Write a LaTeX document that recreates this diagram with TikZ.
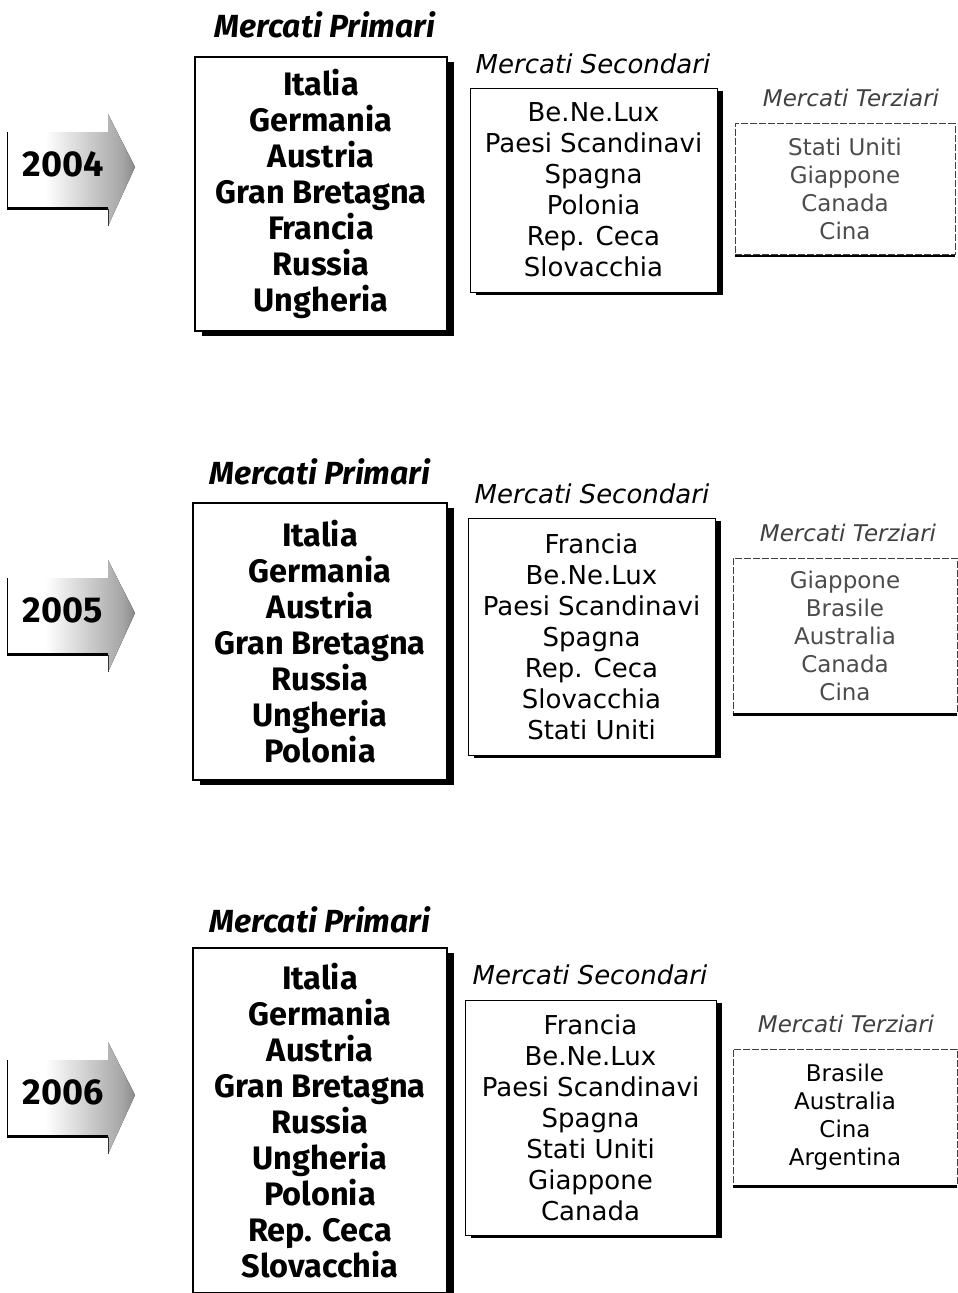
\documentclass[tikz,border=0pt]{standalone}
\usepackage{fontspec}
\setmainfont{Fira Sans}
\newfontfamily\dvfont{DejaVu Sans}
\usetikzlibrary{shadows}
\pgfdeclarehorizontalshading{arrowshade}{100bp}{color(0bp)=(white); color(40bp)=(white); color(70bp)=(black!35); color(88bp)=(black!75); color(100bp)=(black!95)}
\tikzset{
  primbox/.style={draw=black, line width=1.2pt, fill=white, align=center, inner sep=0pt,
    font=\bfseries\fontsize{32.5}{36}\selectfont,
    drop shadow={shadow xshift=7pt, shadow yshift=-5pt, opacity=1, fill=black}},
  secbox/.style={draw=black, line width=0.8pt, fill=white, align=center, inner sep=0pt,
    font=\dvfont\fontsize{26}{31}\selectfont,
    drop shadow={shadow xshift=6pt, shadow yshift=-3pt, opacity=1, fill=black}},
  terbox/.style={draw=black!75, line width=0.7pt, dash pattern=on 7pt off 2pt, fill=white, align=center, inner sep=0pt,
    font=\dvfont\fontsize{23}{28}\selectfont},
  primtitle/.style={font=\bfseries\itshape\fontsize{32}{34}\selectfont},
  sectitle/.style={font=\dvfont\itshape\fontsize{26}{28}\selectfont},
  tertitle/.style={font=\dvfont\itshape\fontsize{23}{26}\selectfont, text=black!75},
  yeartext/.style={font=\bfseries\fontsize{36}{38}\selectfont},
  tershadow/.style={line width=2.5pt, black},
}
\newcommand{\yeararrow}[3]{%
  % #1 name, #2 center y, #3 label
  \fill[shading=arrowshade] (7,#2-32) -- (108,#2-32) -- (108,#2-50) -- (135,#2+3) -- (108,#2+62) -- (108,#2+45) -- (7,#2+45) -- cycle;
  \draw[line width=1pt] (7,#2-32) -- (7,#2+45);
  \draw[line width=3pt] (7,#2+44) -- (108,#2+44);
  \draw[line width=1pt, black!80] (108,#2+45) -- (108,#2+62);
  \node[yeartext] (#1) at (63,#2) {#3};
}
\begin{document}
\begin{tikzpicture}[x=1pt,y=-1pt]
\useasboundingbox (0,0) rectangle (958,1293);
\clip (0,0) rectangle (958,1293);
\fill[white] (0,0) rectangle (958,1293);

% ---------------- 2004 ----------------
\yeararrow{y1}{164}{2004}
\node[primtitle] (pt1) at (325,25) {Mercati Primari};
\node[primbox, minimum width=252pt, minimum height=274pt] (p1) at (321,194)
  {Italia\\Germania\\Austria\\Gran Bretagna\\Francia\\Russia\\Ungheria};
\node[sectitle] (st1) at (593,64) {Mercati Secondari};
\node[secbox, minimum width=247pt, minimum height=204pt] (s1) at (593.5,190)
  {Be.Ne.Lux\\Paesi Scandinavi\\Spagna\\Polonia\\Rep. Ceca\\Slovacchia};
\node[tertitle] (tt1) at (851,98) {Mercati Terziari};
\node[terbox, minimum width=220pt, minimum height=131pt, text=black!70] (t1) at (845,189)
  {Stati Uniti\\Giappone\\Canada\\Cina};
\draw[tershadow] ([yshift=-1pt]t1.south west) -- ([yshift=-1pt]t1.south east);

% ---------------- 2005 ----------------
\yeararrow{y2}{610}{2005}
\node[primtitle] (pt2) at (320,472) {Mercati Primari};
\node[primbox, minimum width=254pt, minimum height=277pt] (p2) at (320,641.5)
  {Italia\\Germania\\Austria\\Gran Bretagna\\Russia\\Ungheria\\Polonia};
\node[sectitle] (st2) at (592,494) {Mercati Secondari};
\node[secbox, minimum width=247pt, minimum height=237pt] (s2) at (591.5,636.5)
  {Francia\\Be.Ne.Lux\\Paesi Scandinavi\\Spagna\\Rep. Ceca\\Slovacchia\\Stati Uniti};
\node[tertitle] (tt2) at (848,533) {Mercati Terziari};
\node[terbox, minimum width=224pt, minimum height=155pt, text=black!70] (t2) at (845,635.5)
  {Giappone\\Brasile\\Australia\\Canada\\Cina};
\draw[tershadow] ([yshift=-1pt]t2.south west) -- ([yshift=-1pt]t2.south east);

% ---------------- 2006 ----------------
\yeararrow{y3}{1092}{2006}
\node[primtitle] (pt3) at (320,920) {Mercati Primari};
\node[primbox, minimum width=254pt, minimum height=345pt] (p3) at (320,1120.5)
  {Italia\\Germania\\Austria\\Gran Bretagna\\Russia\\Ungheria\\Polonia\\Rep. Ceca\\Slovacchia};
\node[sectitle] (st3) at (590,975) {Mercati Secondari};
\node[secbox, minimum width=251pt, minimum height=235pt] (s3) at (590.5,1117.5)
  {Francia\\Be.Ne.Lux\\Paesi Scandinavi\\Spagna\\Stati Uniti\\Giappone\\Canada};
\node[tertitle] (tt3) at (846,1024) {Mercati Terziari};
\node[terbox, minimum width=224pt, minimum height=136pt, text=black] (t3) at (845,1117)
  {Brasile\\Australia\\Cina\\Argentina};
\draw[tershadow] ([yshift=-1pt]t3.south west) -- ([yshift=-1pt]t3.south east);
\end{tikzpicture}
\end{document}
